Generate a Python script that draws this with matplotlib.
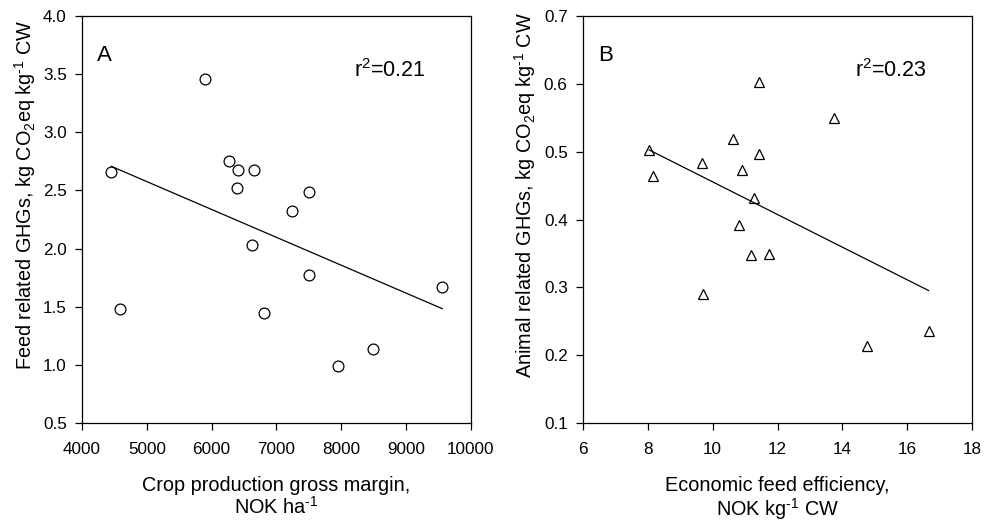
import numpy as np
import matplotlib
matplotlib.use("Agg")
import matplotlib.pyplot as plt

plt.rcParams['font.family'] = ['Liberation Sans', 'DejaVu Sans']
plt.rcParams['mathtext.default'] = 'regular'

# Panel A: crop production gross margin vs feed related GHGs
margin_a = [4453, 4592, 5899, 6265, 6404, 6393, 6661, 6620, 6805,
            7242, 7495, 7505, 7947, 8483, 9558]
ghg_a = [2.66, 1.48, 3.46, 2.75, 2.68, 2.52, 2.68, 2.03, 1.45,
         2.32, 2.49, 1.77, 0.99, 1.14, 1.67]

# Panel B: economic feed efficiency vs animal related GHGs
eff_b = [8.04, 8.15, 9.66, 9.70, 10.62, 10.82, 10.90, 11.26, 11.42,
         11.42, 11.19, 11.74, 13.74, 14.75, 16.66]
ghg_b = [0.503, 0.464, 0.484, 0.290, 0.519, 0.392, 0.473, 0.431, 0.603,
         0.496, 0.348, 0.349, 0.549, 0.213, 0.235]

# superscript "-1" drawn with a short hyphen, as in the original
inv = '$^{\u20101}$'

fig = plt.figure(figsize=(9.84, 5.25), dpi=100)
ax1 = fig.add_axes([0.0833, 0.1943, 0.3953, 0.7752])
ax2 = fig.add_axes([0.5925, 0.1943, 0.3953, 0.7752])


def panel(ax, x, y, marker, letter, r2):
    x = np.array(x)
    y = np.array(y)
    ax.plot(x, y, linestyle='none', marker=marker, markersize=7.8,
            markerfacecolor='white', markeredgecolor='black', markeredgewidth=0.9)
    k, b = np.polyfit(x, y, 1)
    xs = np.array([x.min(), x.max()])
    ax.plot(xs, k * xs + b, color='black', linewidth=0.9)
    ax.text(0.039, 0.93, letter, transform=ax.transAxes, fontsize=16, va='top', ha='left')
    ax.text(0.70, 0.85, r'r$^2$=%.2f' % r2, transform=ax.transAxes, fontsize=15.5,
            va='baseline', ha='left')
    for s in ax.spines.values():
        s.set_linewidth(0.9)
    ax.tick_params(direction='out', length=5, width=0.9, labelsize=12.3,
                   top=False, right=False)
    ax.tick_params(axis='x', pad=8.5)
    ax.tick_params(axis='y', pad=6)


panel(ax1, margin_a, ghg_a, 'o', 'A', 0.21)
ax1.set_xlim(4000, 10000)
ax1.set_ylim(0.5, 4.0)
ax1.set_xticks(np.arange(4000, 10001, 1000))
ax1.set_yticks(np.arange(0.5, 4.01, 0.5))
ax1.yaxis.set_major_formatter(matplotlib.ticker.FormatStrFormatter('%.1f'))
ax1.set_xlabel('Crop production gross margin,\nNOK ha' + inv, fontsize=14.3,
               linespacing=1.05, labelpad=14)
ax1.set_ylabel('Feed related GHGs, kg CO$_2$eq kg' + inv + ' CW', fontsize=14.3)
ax1.yaxis.set_label_coords(-0.113, 0.56)

panel(ax2, eff_b, ghg_b, '^', 'B', 0.23)
ax2.set_xlim(6, 18)
ax2.set_ylim(0.1, 0.7)
ax2.set_xticks(np.arange(6, 19, 2))
ax2.set_yticks(np.arange(0.1, 0.71, 0.1))
ax2.yaxis.set_major_formatter(matplotlib.ticker.FormatStrFormatter('%.1f'))
ax2.set_xlabel('Economic feed efficiency,\nNOK kg' + inv + ' CW', fontsize=14.3,
               linespacing=1.05, labelpad=14)
ax2.set_ylabel('Animal related GHGs, kg CO$_2$eq kg' + inv + ' CW', fontsize=14.3)
ax2.yaxis.set_label_coords(-0.116, 0.56)

fig.savefig('out.png', dpi=100)
